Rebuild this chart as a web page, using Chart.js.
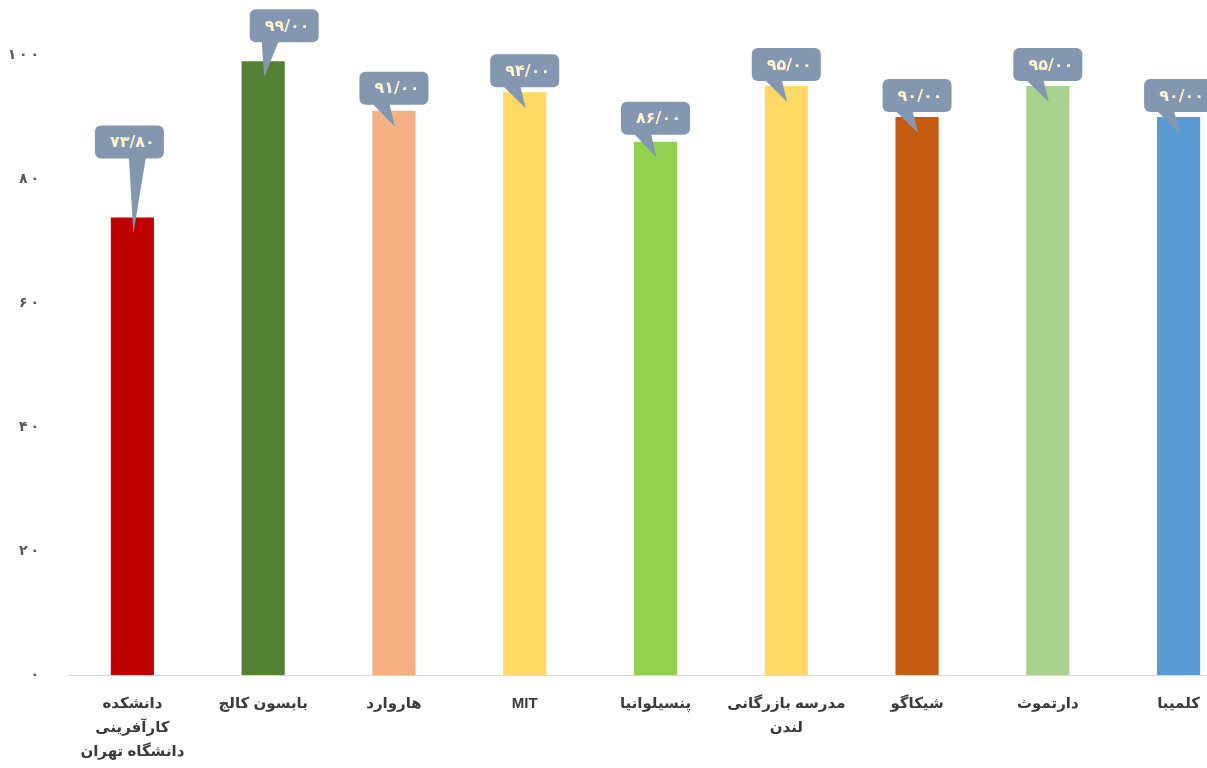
<!DOCTYPE html>
<html lang="fa">
<head>
<meta charset="utf-8">
<script src="https://cdn.jsdelivr.net/npm/chart.js@4"></script>
<style>
  html, body { margin: 0; padding: 0; background: #ffffff; overflow: hidden; }
  #wrap { position: relative; width: 1244px; height: 768px; }
</style>
</head>
<body>
<div id="wrap"><canvas id="c" width="1244" height="768"></canvas></div>
<script>
// ---- data ----
const categories = [
  ["دانشکده", "کارآفرینی", "دانشگاه تهران"],
  "بابسون کالج",
  "هاروارد",
  "MIT",
  "پنسیلوانیا",
  ["مدرسه بازرگانی", "لندن"],
  "شیکاگو",
  "دارتموث",
  "کلمیبا"
];
const scores = [73.8, 99, 91, 94, 86, 95, 90, 95, 90];
const barColors = ["#C00000", "#548235", "#F4B183", "#FFD966", "#92D050", "#FFD966", "#C55A11", "#A9D18E", "#5B9BD5"];
const yTickValues = [0, 20, 40, 60, 80, 100];

// ---- helpers ----
const faDigits = "۰۱۲۳۴۵۶۷۸۹";
function toFa(str) {
  return String(str).replace(/[0-9]/g, d => faDigits[+d]).replace(".", "/");
}

// callout placement tweaks (style only)
const calloutDx = [-3, 21, 0, 0, 0, 0, 0, 0, 0];
const calloutLift = [59, 19, 6, 5, 7, 5, 5, 5, 5];
const tailBase = [34, 12, 13, 13, 13, 13, 13, 13, 13];

const calloutPlugin = {
  id: "callouts",
  afterDatasetsDraw(chart) {
    const ctx = chart.ctx;
    const meta = chart.getDatasetMeta(0);
    ctx.save();
    meta.data.forEach((bar, i) => {
      const w = 69, h = 33, r = 6;
      const cx = bar.x + calloutDx[i];
      const bottom = bar.y - calloutLift[i];
      const left = cx - w / 2, top = bottom - h;
      ctx.fillStyle = "#8497B0";
      ctx.beginPath();
      ctx.roundRect(left, top, w, h, r);
      ctx.fill();
      // tail
      ctx.beginPath();
      ctx.moveTo(left + tailBase[i], bottom - 1);
      ctx.lineTo(left + tailBase[i] + 17, bottom - 1);
      ctx.lineTo(bar.x + 1, bar.y + 16);
      ctx.closePath();
      ctx.fill();
      // text
      ctx.fillStyle = "#FFF2CC";
      ctx.font = "bold 16px 'DejaVu Sans'";
      ctx.textAlign = "center";
      ctx.textBaseline = "middle";
      if ("letterSpacing" in ctx) ctx.letterSpacing = "5px";
      ctx.fillText(toFa(scores[i].toFixed(2)), cx + 3, top + h / 2 + 1);
      if ("letterSpacing" in ctx) ctx.letterSpacing = "0px";
    });
    ctx.restore();
  }
};

new Chart(document.getElementById("c"), {
  type: "bar",
  data: {
    labels: categories,
    datasets: [{
      data: scores,
      backgroundColor: barColors,
      borderWidth: 0,
      barPercentage: 0.33,
      categoryPercentage: 1.0
    }]
  },
  options: {
    responsive: false,
    animation: false,
    layout: { padding: { top: 55, left: 0, right: 0, bottom: 0 } },
    plugins: { legend: { display: false }, tooltip: { enabled: false } },
    scales: {
      x: {
        grid: { display: false, drawTicks: false },
        border: { display: true, color: "#D9D9D9", width: 1 },
        ticks: {
          color: "#3A3A3A",
          font: { family: "'Liberation Sans', 'DejaVu Sans'", size: 15, weight: "bold", lineHeight: 1.6 },
          padding: 17,
          maxRotation: 0,
          autoSkip: false
        },
        afterFit(scale) { scale.height = 93; }
      },
      y: {
        min: 0,
        max: 100,
        afterBuildTicks(scale) { scale.ticks = yTickValues.map(v => ({ value: v })); },
        grid: { display: false, drawTicks: false },
        border: { display: false },
        ticks: {
          color: "#595959",
          font: { family: "'DejaVu Sans'", size: 14, weight: "bold" },
          padding: 28,
          callback: v => toFa(v).split("").join("\u2009")
        },
        afterFit(scale) { scale.width = 67; }
      }
    }
  },
  plugins: [calloutPlugin]
});
</script>
</body>
</html>
